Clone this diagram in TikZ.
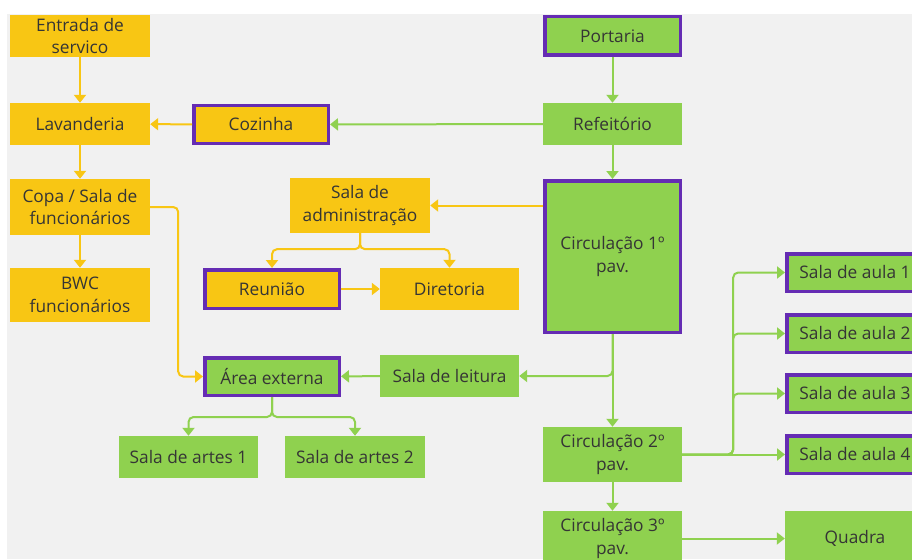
\documentclass[tikz,border=0pt]{standalone}
\usepackage{fontspec}
\setmainfont{Open Sans}
\usetikzlibrary{arrows.meta}

\definecolor{miroyellow}{HTML}{F8C614}
\definecolor{mirogreen}{HTML}{8FD14F}
\definecolor{miropurple}{HTML}{652CB3}
\definecolor{boxtext}{HTML}{353535}
\definecolor{canvas}{HTML}{F1F1F1}

\tikzset{
  room/.style={rectangle, align=center, text=boxtext, inner sep=1pt,
    font=\fontsize{17.3}{22.5}\selectfont, minimum width=139pt, minimum height=42pt},
  yroom/.style={room, fill=miroyellow},
  groom/.style={room, fill=mirogreen},
  keyroom/.style={draw=miropurple, line width=3.5pt},
  link/.style={line width=2pt, rounded corners=5pt, -{Triangle[width=12pt,length=8pt]}},
  ylink/.style={link, draw=miroyellow, color=miroyellow},
  glink/.style={link, draw=mirogreen, color=mirogreen},
}

\begin{document}
\begin{tikzpicture}[x=1pt, y=-1pt]
    \useasboundingbox (0,0) rectangle (912,559);
    \clip (0,0) rectangle (912,559);
    \fill[white] (0,0) rectangle (912,559);
    \fill[canvas] (7,14) rectangle (912,559);

    % Nodes - service wing
    \node[yroom, minimum width=140pt] (entrada) at (80,36) {Entrada de\\servico};
    \node[yroom, minimum width=140pt] (lavanderia) at (80,124) {Lavanderia};
    \node[yroom, keyroom, minimum width=134.5pt, minimum height=37.5pt] (cozinha) at (261,124.5) {Cozinha};
    \node[yroom, minimum width=140pt, minimum height=56pt] (copa) at (80,207) {Copa / Sala de\\funcionários};
    \node[yroom, minimum width=140pt, minimum height=54pt] (bwc) at (80,295) {BWC\\funcionários};

    % Nodes - administration
    \node[yroom, minimum width=140pt, minimum height=55pt] (adm) at (360,205.5) {Sala de\\administração};
    \node[yroom, keyroom, minimum width=134.5pt, minimum height=38.5pt] (reuniao) at (272,289) {Reunião};
    \node[yroom] (diretoria) at (449.5,289) {Diretoria};

    % Nodes - main axis
    \node[groom, keyroom, minimum width=135.5pt, minimum height=38.5pt] (portaria) at (612.5,36) {Portaria};
    \node[groom] (refeitorio) at (612.5,124) {Refeitório};
    \node[groom, keyroom, minimum width=135.5pt, minimum height=151.5pt] (circ1) at (612.5,256.5) {Circulação 1º\\pav.};
    \node[groom, minimum height=55pt] (circ2) at (612.5,454.5) {Circulação 2º\\pav.};
    \node[groom, minimum height=55pt] (circ3) at (612.5,538.5) {Circulação 3º\\pav.};

    % Nodes - outside and reading
    \node[groom] (leitura) at (449.5,376) {Sala de leitura};
    \node[groom, keyroom, minimum width=134.5pt, minimum height=37.5pt] (externa) at (272,376.5) {Área externa};
    \node[groom] (artes1) at (188.5,457) {Sala de artes 1};
    \node[groom, minimum width=140pt] (artes2) at (355,457) {Sala de artes 2};

    % Nodes - classrooms
    \node[groom, keyroom, minimum width=136.5pt, minimum height=37.5pt] (aula1) at (855,272.5) {Sala de aula 1};
    \node[groom, keyroom, minimum width=136.5pt, minimum height=37.5pt] (aula2) at (855,333.5) {Sala de aula 2};
    \node[groom, keyroom, minimum width=136.5pt, minimum height=37.5pt] (aula3) at (855,393.5) {Sala de aula 3};
    \node[groom, keyroom, minimum width=136.5pt, minimum height=37.5pt] (aula4) at (855,454.5) {Sala de aula 4};
    \node[groom, minimum width=140pt, minimum height=55pt] (quadra) at (855,538.5) {Quadra};

    % Edges - yellow
    \draw[ylink] (entrada) -- (lavanderia);
    \draw[ylink] (cozinha) -- (lavanderia);
    \draw[ylink] (lavanderia) -- (copa);
    \draw[ylink] (copa) -- (bwc);
    \draw[ylink] (copa.east) -- ++(28,0) |- (externa.west);
    \draw[ylink] (adm.east -| circ1.west) -- (adm.east);
    \draw[ylink] (adm.south) -- ++(0,16) -| (reuniao.north);
    \draw[ylink] (adm.south) -- ++(0,16) -| (diretoria.north);
    \draw[ylink] (reuniao) -- (diretoria);

    % Edges - green
    \draw[glink] (portaria) -- (refeitorio);
    \draw[glink] (refeitorio) -- (cozinha);
    \draw[glink] (refeitorio) -- (circ1);
    \draw[glink] (circ1.south) |- (leitura.east);
    \draw[glink] (circ1) -- (circ2);
    \draw[glink] (leitura) -- (externa);
    \draw[glink] (externa.south) -- ++(0,20) -| (artes1.north);
    \draw[glink] (externa.south) -- ++(0,20) -| (artes2.north);
    \foreach \room in {aula1,aula2,aula3}
        \draw[glink] (circ2.east) -- ++(51,0) |- (\room.west);
    \draw[glink] (circ2) -- (aula4);
    \draw[glink] (circ2) -- (circ3);
    \draw[glink] (circ3) -- (quadra);
\end{tikzpicture}
\end{document}
